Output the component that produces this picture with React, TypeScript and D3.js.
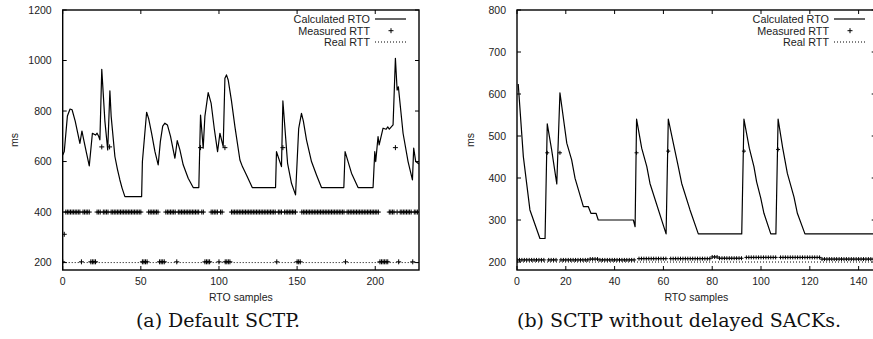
import * as d3 from "d3";

// ---- data ----
const leftRto: [number, number][] = [
  [0, 626], [1, 640], [3, 780], [4.7, 808], [6, 805], [8, 760], [11, 672], [12.3, 721], [13, 700],
  [15, 640], [17, 583], [19, 712], [21, 705], [22, 712], [23, 700], [23.8, 686], [25, 965], [27, 760],
  [28.8, 646], [30.2, 880], [31, 780], [33.4, 620], [35, 570], [36.6, 527], [38, 495], [39.8, 461],
  [50.5, 461], [51, 600], [53.7, 795], [55, 770], [56.9, 712], [59, 640], [61.1, 587], [62.5, 680],
  [64, 740], [65.4, 752], [67, 745], [69, 700], [71.8, 613], [73.3, 683], [75, 646], [77.1, 587],
  [80.3, 534], [83.5, 497], [87.1, 497], [88.2, 784], [89.9, 653], [91, 780], [93.1, 873], [95, 830],
  [97, 730], [99.1, 639], [100.6, 712], [102.7, 659], [103.8, 930], [104.8, 943], [105.9, 923],
  [108, 840], [110.2, 738], [113.4, 606], [115, 580], [117.6, 547], [121.3, 497], [136.2, 497],
  [136.8, 639], [140, 580], [140.9, 840], [143.9, 593], [146.4, 514], [149, 468], [151, 730],
  [152.8, 791], [154, 760], [156, 686], [159.2, 600], [162.4, 547], [165.6, 497], [179.9, 497],
  [180.7, 639], [184.8, 554], [189, 497], [198.6, 497], [199.7, 639], [200.3, 600], [201.8, 699],
  [202.5, 666], [205, 732], [207, 728], [208, 737], [209, 728], [211.4, 745], [212.9, 1009],
  [214, 883], [214.8, 896], [217.8, 712], [221, 600], [223.8, 527], [224.6, 653], [225.9, 600],
  [228, 590],
];

// runs of samples [from, to, ms] for the measured RTT rows
const leftMeasuredRuns: [number, number, number][] = [
  [0, 0, 203], [2, 11, 400], [12, 12, 203], [13, 17, 400], [18, 21, 203], [22, 24, 400], [26, 29, 400],
  [31, 50, 400], [51, 54, 203], [55, 61, 400], [62, 65, 203], [66, 72, 400], [73, 73, 203],
  [74, 87, 400], [89, 90, 400], [91, 94, 203], [95, 99, 400], [100, 100, 203], [101, 102, 400],
  [104, 107, 203], [108, 136, 400], [137, 137, 203], [138, 140, 400], [142, 149, 400],
  [150, 152, 203], [153, 180, 400], [181, 181, 203], [182, 202, 400], [203, 208, 203],
  [209, 212, 400], [214, 214, 400], [215, 215, 203], [216, 223, 400], [224, 224, 203], [225, 227, 400],
];
const leftMeasuredPeaks: [number, number][] = [
  [1, 312], [25, 658], [30, 658], [88.2, 655], [103.8, 655], [140.9, 655], [212.9, 655],
];
const leftRealRtt: [number, number][] = [[0, 200], [228, 200]];

const rightRto: [number, number][] = [
  [0.5, 624], [2.6, 451], [5.3, 324], [9.4, 256], [11.5, 256], [12.4, 529], [14.2, 467], [16.3, 386],
  [17.6, 603], [20.4, 483], [22.4, 443], [23.8, 399], [27.2, 332], [29.2, 332], [30.3, 316],
  [32.4, 316], [33.3, 300], [47.7, 300], [48.4, 284], [49, 540], [51.1, 471], [53.2, 427],
  [54.5, 387], [61.1, 267], [62, 540], [63.8, 490], [66.1, 427], [67.5, 387], [70.9, 324],
  [74.3, 267], [92.1, 267], [93, 540], [95.2, 471], [97.1, 427], [98.2, 391], [99.9, 352],
  [101.2, 316], [104, 267], [106.1, 267], [107, 540], [108.9, 471], [110.8, 411], [113.5, 355],
  [114.9, 316], [118, 267], [147, 267],
];
const rightMeasuredRuns: [number, number, number][] = [
  [0, 11, 205], [13, 16, 205], [18, 29, 205], [30, 33, 207], [34, 48, 205], [50, 61, 208],
  [63, 79, 208], [80, 82, 212], [83, 92, 209], [94, 106, 211], [108, 124, 211], [125, 147, 207],
];
const rightMeasuredPeaks: [number, number][] = [
  [12.4, 460], [17.6, 460], [49, 460], [62, 464], [93, 464], [107, 468],
];
const rightRealRtt: [number, number][] = [[0, 200], [147, 200]];

const leftXTicks = [0, 50, 100, 150, 200];
const leftYTicks = [200, 400, 600, 800, 1000, 1200];
const rightXTicks = [0, 20, 40, 60, 80, 100, 120, 140];
const rightYTicks = [200, 300, 400, 500, 600, 700, 800];

const legendLabels = ["Calculated RTO", "Measured RTT", "Real RTT"];

const FONT = "'Liberation Sans', Arial, sans-serif";

function expandRuns(runs: [number, number, number][]): [number, number][] {
  const pts: [number, number][] = [];
  runs.forEach(([a, b, v]) => {
    for (let i = a; i <= b; i++) pts.push([i, v]);
  });
  return pts;
}

type PanelProps = {
  left: number; right: number; top: number; bottom: number;
  xDomain: [number, number]; yDomain: [number, number];
  xTicks: number[]; yTicks: number[];
  rto: [number, number][]; measured: [number, number][]; real: [number, number][];
  legendX: number; msX: number; caption: string; captionX: number; mark: number;
};

function Panel(p: PanelProps) {
  const x = d3.scaleLinear().domain(p.xDomain).range([p.left, p.right]);
  const y = d3.scaleLinear().domain(p.yDomain).range([p.bottom, p.top]);
  const line = d3.line<[number, number]>().x((d) => x(d[0])).y((d) => y(d[1]));
  const plus = `M${-p.mark},0h${2 * p.mark}M0,${-p.mark}v${2 * p.mark}`;
  const legendPlus = "M-2.5,0h5M0,-2.5v5";
  const tl = 4;
  const clipId = "clip" + Math.round(p.left);
  const legendY = [19, 30.7, 42];
  return (
    <g>
      <defs>
        <clipPath id={clipId}>
          <rect x={p.left} y={p.top} width={p.right - p.left} height={p.bottom - p.top} />
        </clipPath>
      </defs>
      <g clipPath={`url(#${clipId})`}>
        <path d={line(p.real) || ""} fill="none" stroke="#000" strokeWidth={1} strokeDasharray="1,2" />
        {p.measured.map((d, i) => (
          <path key={i} d={plus} transform={`translate(${x(d[0])},${y(d[1])})`} stroke="#000" strokeWidth={1} />
        ))}
        <path d={line(p.rto) || ""} fill="none" stroke="#000" strokeWidth={1.2} strokeLinejoin="round" />
      </g>
      {/* ticks, mirrored inward */}
      {p.xTicks.map((t) => (
        <g key={"x" + t}>
          <line x1={x(t)} x2={x(t)} y1={p.bottom} y2={p.bottom - tl} stroke="#000" />
          <line x1={x(t)} x2={x(t)} y1={p.top} y2={p.top + tl} stroke="#000" />
          <text x={x(t)} y={p.bottom + 15} textAnchor="middle" fontFamily={FONT} fontSize={10.5} fill="#222">{t}</text>
        </g>
      ))}
      {p.yTicks.map((t) => (
        <g key={"y" + t}>
          <line x1={p.left} x2={p.left + tl} y1={y(t)} y2={y(t)} stroke="#000" />
          <line x1={p.right} x2={p.right - tl} y1={y(t)} y2={y(t)} stroke="#000" />
          <text x={p.left - 11} y={y(t) + 3.8} textAnchor="end" fontFamily={FONT} fontSize={10.5} fill="#222">{t}</text>
        </g>
      ))}
      <rect x={p.left} y={p.top} width={p.right - p.left} height={p.bottom - p.top} fill="none" stroke="#000" strokeWidth={1.4} />
      {/* legend */}
      {legendLabels.map((lab, i) => (
        <text key={lab} x={p.legendX} y={legendY[i] + 3.8} textAnchor="end" fontFamily={FONT} fontSize={10.8} fill="#222">{lab}</text>
      ))}
      <line x1={p.legendX + 5} x2={p.legendX + 36} y1={legendY[0]} y2={legendY[0]} stroke="#000" strokeWidth={1.2} />
      <path d={legendPlus} transform={`translate(${p.legendX + 21},${legendY[1]})`} stroke="#000" strokeWidth={1} />
      <line x1={p.legendX + 5} x2={p.legendX + 36} y1={legendY[2]} y2={legendY[2]} stroke="#000" strokeWidth={1} strokeDasharray="1,2" />
      {/* axis titles */}
      <text x={(p.left + p.right) / 2} y={301} textAnchor="middle" fontFamily={FONT} fontSize={10.5} fill="#222">RTO samples</text>
      <text transform={`translate(${p.msX},${(p.top + p.bottom) / 2}) rotate(-90)`} textAnchor="middle" fontFamily={FONT} fontSize={10.5} fill="#222">ms</text>
      <text x={p.captionX} y={327} textAnchor="middle" fontFamily="'DejaVu Serif', serif" fontSize={19} fill="#111">{p.caption}</text>
    </g>
  );
}

export default function App() {
  return (
    <svg width={873} height={339} style={{ position: "absolute", left: 0, top: 0, background: "#fff" }}>
      <rect width={873} height={339} fill="#fff" />
      <Panel
        left={62.7} right={419} top={10} bottom={270}
        xDomain={[0, 228]} yDomain={[170.6, 1200]}
        xTicks={leftXTicks} yTicks={leftYTicks}
        rto={leftRto} measured={[...expandRuns(leftMeasuredRuns), ...leftMeasuredPeaks]} real={leftRealRtt}
        legendX={370} msX={18} caption="(a) Default SCTP." captionX={218} mark={2.5}
      />
      <Panel
        left={517} right={875.7} top={10} bottom={270}
        xDomain={[0, 147]} yDomain={[181, 800]}
        xTicks={rightXTicks} yTicks={rightYTicks}
        rto={rightRto} measured={[...expandRuns(rightMeasuredRuns), ...rightMeasuredPeaks]} real={rightRealRtt}
        legendX={829} msX={474} caption="(b) SCTP without delayed SACKs." captionX={679} mark={2}
      />
    </svg>
  );
}
